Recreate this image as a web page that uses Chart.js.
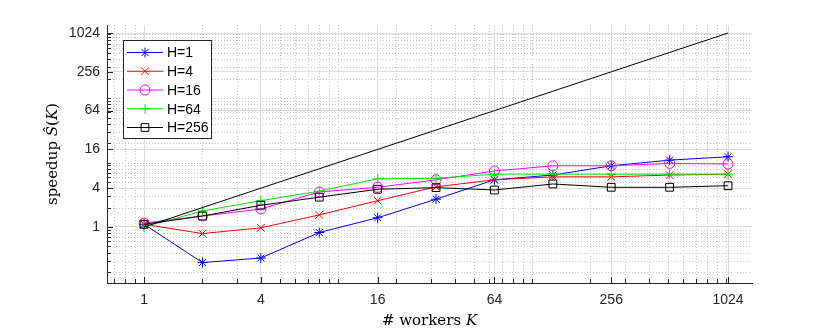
<!DOCTYPE html>
<html>
<head>
<meta charset="utf-8">
<script src="https://cdn.jsdelivr.net/npm/chart.js@4.4.0/dist/chart.umd.min.js"></script>
<style>
  html, body { margin: 0; padding: 0; background: #fff; }
</style>
</head>
<body>
<canvas id="myChart" width="830" height="332"></canvas>
<script>
// number of workers K
const workers = [1, 2, 4, 8, 16, 32, 64, 128, 256, 512, 1024]

// speedup S(K)
const speedupH1 = [1.1, 0.28, 0.33, 0.82, 1.39, 2.7, 5.4, 6.4, 8.9, 10.9, 12.3]
const speedupH4 = [1.1, 0.79, 0.97, 1.54, 2.56, 4.2, 5.4, 6.0, 6.0, 6.4, 6.6]
const speedupH16 = [1.15, 1.48, 1.9, 3.5, 4.13, 5.4, 7.4, 8.9, 8.9, 9.7, 9.5]
const speedupH64 = [1.0, 1.77, 2.56, 3.6, 5.6, 5.7, 6.6, 6.6, 6.6, 6.6, 6.6]
const speedupH256 = [1.1, 1.48, 2.17, 2.9, 3.85, 4.08, 3.75, 4.65, 4.13, 4.13, 4.37]
const idealSpeedup = [1, 2, 4, 8, 16, 32, 64, 128, 256, 512, 1024]

const tickValues = [1, 4, 16, 64, 256, 1024]

const toPoints = ys => workers.map((k, i) => ({x: k, y: ys[i]}))

function series(label, ys, color, style, radius, order) {
  return {
    label: label,
    data: toPoints(ys),
    borderColor: color,
    borderWidth: 1,
    pointStyle: style,
    pointRadius: radius,
    pointBorderColor: color,
    pointBackgroundColor: 'rgba(0,0,0,0)',
    pointBorderWidth: 1,
    order: order,
    inLegend: true
  }
}

const datasets = [
  series('H=1', speedupH1, '#0000ff', 'star', 5, 5),
  series('H=4', speedupH4, '#ff0000', 'crossRot', 5.5, 4),
  series('H=16', speedupH16, '#ff00ff', 'circle', 5, 3),
  series('H=64', speedupH64, '#00e600', 'cross', 5, 2),
  series('H=256', speedupH256, '#000000', 'rect', 5.5, 1),
  {
    label: 'ideal',
    data: toPoints(idealSpeedup),
    borderColor: '#000000',
    borderWidth: 1,
    pointRadius: 0,
    order: 0,
    inLegend: false
  }
]

// dotted minor grid and inward ticks, like the original plot
const minorGrid = {
  id: 'minorGrid',
  beforeDatasetsDraw(chart) {
    const ctx = chart.ctx
    const area = chart.chartArea
    const xs = chart.scales.x
    const ys = chart.scales.y
    const minors = []
    for (let e = -1; e <= 3; e++) {
      for (let d = 1; d <= 9; d++) minors.push(d * Math.pow(10, e))
    }
    ctx.save()
    ctx.lineWidth = 1
    ctx.strokeStyle = '#c8c8c8'
    ctx.setLineDash([1, 2])
    minors.forEach(v => {
      if (tickValues.includes(v)) return
      if (v > xs.min && v < xs.max) {
        const px = Math.round(xs.getPixelForValue(v)) + 0.5
        ctx.beginPath(); ctx.moveTo(px, area.top); ctx.lineTo(px, area.bottom); ctx.stroke()
      }
      if (v > ys.min && v < ys.max) {
        const py = Math.round(ys.getPixelForValue(v)) + 0.5
        ctx.beginPath(); ctx.moveTo(area.left, py); ctx.lineTo(area.right, py); ctx.stroke()
      }
    })
    ctx.setLineDash([])
    ctx.strokeStyle = '#262626'
    const all = minors.concat(tickValues)
    all.forEach(v => {
      const len = tickValues.includes(v) ? 6 : 4
      if (v > xs.min && v < xs.max) {
        const px = Math.round(xs.getPixelForValue(v)) + 0.5
        ctx.beginPath(); ctx.moveTo(px, area.bottom); ctx.lineTo(px, area.bottom - len); ctx.stroke()
      }
      if (v > ys.min && v < ys.max) {
        const py = Math.round(ys.getPixelForValue(v)) + 0.5
        ctx.beginPath(); ctx.moveTo(area.left, py); ctx.lineTo(area.left + len, py); ctx.stroke()
      }
    })
    ctx.restore()
  }
}

// legend box with line + marker samples
const lineLegend = {
  id: 'lineLegend',
  afterDraw(chart) {
    const ctx = chart.ctx
    const items = chart.data.datasets.filter(ds => ds.inLegend)
    ctx.save()
    ctx.fillStyle = '#ffffff'
    ctx.fillRect(123.5, 40.5, 88, 98)
    ctx.strokeStyle = '#262626'
    ctx.lineWidth = 1
    ctx.strokeRect(123.5, 40.5, 88, 98)
    ctx.font = '14px "Liberation Sans", Arial, sans-serif'
    ctx.textBaseline = 'middle'
    items.forEach((ds, i) => {
      const y = 52.5 + i * 18.75
      ctx.strokeStyle = ds.borderColor
      ctx.beginPath(); ctx.moveTo(127, y); ctx.lineTo(163, y); ctx.stroke()
      ctx.fillStyle = 'rgba(0,0,0,0)'
      Chart.helpers.drawPoint(ctx, {pointStyle: ds.pointStyle, radius: ds.pointRadius, rotation: 0, borderWidth: 1}, 145, y)
      ctx.fillStyle = '#000000'
      ctx.fillText(ds.label, 167, y + 1)
    })
    ctx.restore()
  }
}

// axis titles with italic symbols
function drawParts(ctx, parts, x, y) {
  let w = 0
  parts.forEach(p => { ctx.font = p[1]; w += ctx.measureText(p[0]).width })
  let cx = x - w / 2
  parts.forEach(p => {
    ctx.font = p[1]
    ctx.fillText(p[0], cx, y)
    cx += ctx.measureText(p[0]).width
  })
}

const axisTitles = {
  id: 'axisTitles',
  afterDraw(chart) {
    const ctx = chart.ctx
    const area = chart.chartArea
    const rm = '15px "DejaVu Serif", serif'
    const it = 'italic 15px "DejaVu Serif", serif'
    ctx.save()
    ctx.fillStyle = '#000000'
    ctx.textBaseline = 'alphabetic'
    ctx.textAlign = 'left'
    drawParts(ctx, [['# workers ', rm], ['K', it]], (area.left + area.right) / 2, 325)
    ctx.translate(57, (area.top + area.bottom) / 2)
    ctx.rotate(-Math.PI / 2)
    drawParts(ctx, [['speedup ', rm], ['\u015C', it], ['(', rm], ['K', it], [')', rm]], 0, 0)
    ctx.restore()
  }
}

const tickFont = {family: '"Liberation Sans", Arial, sans-serif', size: 14}

const config = {
  type: 'line',
  data: {datasets: datasets},
  options: {
    responsive: false,
    animation: false,
    layout: {padding: {left: 0, right: 78, top: 25, bottom: 0}},
    plugins: {legend: {display: false}, tooltip: {enabled: false}},
    scales: {
      x: {
        type: 'logarithmic',
        bounds: 'data',
        min: 0.644,
        max: 1361,
        afterBuildTicks: s => { s.ticks = tickValues.map(v => ({value: v})) },
        afterFit: s => { s.height = 49 },
        ticks: {callback: v => String(v), autoSkip: false, maxRotation: 0, padding: 9, color: '#262626', font: tickFont},
        grid: {color: '#dedede', drawTicks: false},
        border: {color: '#262626'}
      },
      y: {
        type: 'logarithmic',
        bounds: 'data',
        min: 0.135,
        max: 1365,
        afterBuildTicks: s => { s.ticks = tickValues.map(v => ({value: v})) },
        afterFit: s => { s.width = 107 },
        ticks: {callback: v => String(v), autoSkip: false, padding: 7, color: '#262626', font: tickFont},
        grid: {color: '#dedede', drawTicks: false},
        border: {color: '#262626'}
      }
    }
  },
  plugins: [minorGrid, lineLegend, axisTitles]
}

const myChart = new Chart(document.getElementById('myChart'), config)
</script>
</body>
</html>
